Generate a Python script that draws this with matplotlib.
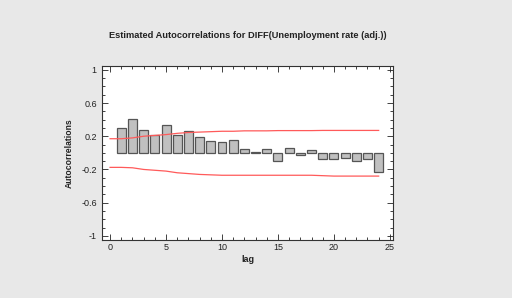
import matplotlib.pyplot as plt
from matplotlib.ticker import MultipleLocator

lags = list(range(1, 25))
acf = [0.30, 0.41, 0.28, 0.22, 0.33, 0.21, 0.26, 0.19, 0.14, 0.13, 0.15, 0.05,
       0.01, 0.05, -0.10, 0.06, -0.03, 0.03, -0.07, -0.08, -0.06, -0.10, -0.08, -0.23]

limit_lags = list(range(0, 25))
upper = [0.17, 0.17, 0.18, 0.20, 0.21, 0.22, 0.235, 0.245, 0.25, 0.255, 0.26, 0.26, 0.265,
         0.265, 0.265, 0.268, 0.268, 0.268, 0.268, 0.27, 0.27, 0.27, 0.27, 0.27, 0.27]
lower = [-0.175, -0.175, -0.18, -0.20, -0.21, -0.22, -0.24, -0.25, -0.26, -0.265, -0.27, -0.27, -0.27,
         -0.27, -0.27, -0.27, -0.27, -0.27, -0.27, -0.275, -0.28, -0.28, -0.28, -0.28, -0.28]


def main():
    plt.rcParams['font.family'] = ['Liberation Sans', 'DejaVu Sans']
    bg = '#e8e8e8'
    fig = plt.figure(figsize=(5.12, 2.98), dpi=100, facecolor=bg)
    ax = fig.add_axes([0.1986, 0.1946, 0.5694, 0.585])

    ax.bar(lags, acf, width=0.8, color='#c0c0c0', edgecolor='#555555', linewidth=0.9, zorder=2)
    ax.plot(limit_lags, upper, color='#ff5a5a', linewidth=0.9, zorder=3)
    ax.plot(limit_lags, lower, color='#ff5a5a', linewidth=0.9, zorder=3)

    ax.set_xlim(-0.75, 25.3)
    ax.set_ylim(-1.05, 1.05)
    ax.set_xticks([0, 5, 10, 15, 20, 25])
    ax.set_yticks([-1, -0.6, -0.2, 0.2, 0.6, 1])
    ax.set_yticklabels(['-1', '-0.6', '-0.2', '0.2', '0.6', '1'])
    ax.xaxis.set_minor_locator(MultipleLocator(1))
    ax.yaxis.set_minor_locator(MultipleLocator(0.1))
    ax.tick_params(which='both', direction='in', top=True, right=True,
                   labelsize=6.5, colors='#222222', width=0.6)
    ax.tick_params(which='major', length=4)
    ax.tick_params(which='minor', length=2.5)
    ax.tick_params(axis='x', pad=2.5)
    for s in ax.spines.values():
        s.set_linewidth(0.8)
        s.set_color('#333333')

    ax.set_xlabel('lag', fontsize=6.5, fontweight='bold', color='#222222', labelpad=2)
    ax.set_ylabel('Autocorrelations', fontsize=6.2, fontweight='bold', color='#222222', labelpad=5)
    fig.text(0.4834, 0.882, 'Estimated Autocorrelations for DIFF(Unemployment rate (adj.))',
             ha='center', va='center', fontsize=6.7, fontweight='bold', color='#222222')

    fig.savefig('out.png', dpi=100, facecolor=bg)


if __name__ == "__main__":
    main()
